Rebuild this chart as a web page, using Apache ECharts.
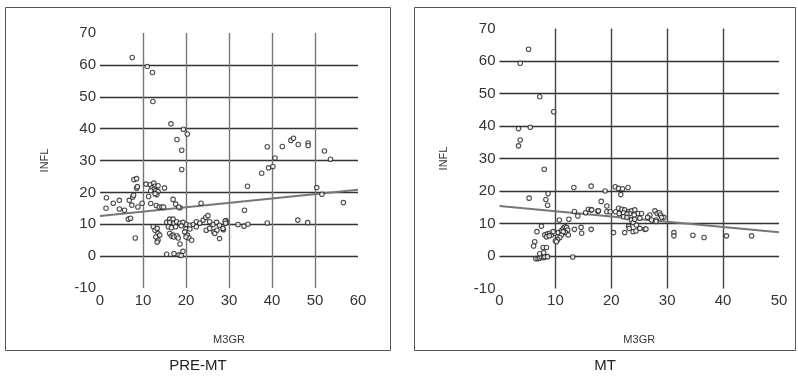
<!DOCTYPE html>
<html>
<head>
<meta charset="utf-8">
<script src="https://cdn.jsdelivr.net/npm/echarts@6/dist/echarts.min.js"></script>
<style>html,body{margin:0;padding:0;background:#fff}#c{width:798px;height:377px}</style>
</head>
<body>
<div id="c"></div>
<script>
const panelTitles = ['PRE-MT', 'MT'];
const xName = 'M3GR';
const yName = 'INFL';

const preX = [7.5,11.0,12.2,12.3,16.5,19.4,20.3,17.9,19.0,19.0,
  38.9,42.4,44.4,45.0,46.1,48.4,48.4,52.2,53.6,40.7,37.6,39.2,40.2,
  34.3,50.4,51.6,56.6,33.6,33.5,34.4,38.9,46.0,48.3,32.1,29.3,29.3,28.7,
  1.5,1.4,3.1,4.5,4.5,5.7,6.8,7.6,7.4,8.8,9.8,6.6,7.1,8.2,7.9,8.5,8.5,8.7,7.8,
  10.7,11.7,12.5,12.7,13.5,12.1,12.6,13.0,13.5,13.2,12.8,11.8,11.3,15.0,
  11.8,13.1,13.8,14.4,14.8,17.0,17.6,18.6,18.3,23.5,
  16.2,17.0,15.5,16.2,17.2,17.8,18.6,19.3,20.1,20.9,21.7,22.4,23.2,24.0,24.6,25.1,25.5,26.3,27.1,27.8,29.1,29.2,
  15.9,16.6,17.6,18.9,20.0,20.9,22.4,24.7,25.5,26.5,27.2,28.6,
  12.4,12.8,13.3,13.5,13.0,13.5,13.3,13.9,16.2,16.6,17.0,17.2,17.9,18.2,19.7,20.3,20.7,21.3,20.0,18.6,26.7,27.8,
  15.5,17.2,18.4,18.9,19.3];
const preY = [62.3,59.5,57.6,48.5,41.5,39.8,38.3,36.6,33.2,27.2,
  34.3,34.4,36.3,37.0,35.0,35.5,34.7,33.0,30.4,30.8,26.0,27.7,28.1,
  21.9,21.5,19.4,16.8,14.4,9.4,10.0,10.4,11.3,10.5,9.9,11.2,10.5,8.3,
  18.3,15.0,16.6,17.5,14.8,14.4,17.5,18.5,16.0,15.4,16.6,11.6,11.9,5.7,24.0,24.3,21.3,21.8,19.1,
  22.6,22.4,22.9,21.9,22.1,21.4,21.0,20.6,20.3,19.3,19.6,20.5,18.7,21.4,
  16.5,15.9,15.4,15.4,15.4,17.8,16.3,15.2,15.4,16.6,
  11.6,11.6,10.6,10.6,10.3,10.8,10.3,10.6,9.9,9.7,9.9,10.8,10.3,11.3,12.1,12.7,10.8,9.9,10.6,9.7,11.0,10.3,
  9.2,8.9,9.2,9.5,8.5,8.5,9.2,8.1,8.7,7.6,8.1,8.7,
  9.2,8.1,8.7,7.1,6.0,5.0,4.4,6.6,7.1,6.3,6.6,6.0,6.3,5.7,7.6,6.6,5.7,5.0,6.0,3.8,7.1,5.5,
  0.6,0.8,0.4,0.2,1.5];

const mtX = [5.2,3.7,7.2,9.7,3.4,5.5,3.7,3.4,8.0,
  13.3,16.4,5.3,8.7,8.3,8.6,18.2,13.4,14.0,15.4,15.9,16.4,17.6,10.7,12.4,7.5,6.7,6.3,6.1,
  8.1,8.6,9.0,9.3,9.9,9.6,10.5,11.1,11.4,11.7,12.0,12.2,11.8,11.1,10.8,10.4,10.0,10.2,11.4,12.3,8.4,8.9,
  13.4,14.6,14.7,16.4,
  6.5,6.9,7.2,7.5,7.9,8.1,8.6,7.2,7.9,7.8,8.4,13.1,
  18.9,20.7,21.3,22.0,23.0,21.7,19.2,19.2,19.8,16.5,17.7,
  20.8,21.3,21.9,22.4,23.1,23.6,24.2,24.8,25.4,21.4,22.2,23.3,24.1,22.8,
  22.2,22.8,23.6,23.9,24.2,25.1,
  23.1,23.2,24.5,25.1,26.0,23.9,20.4,22.4,24.4,26.2,
  26.9,26.5,27.8,28.2,28.6,28.8,29.4,28.0,28.0,29.0,27.2,
  31.2,31.2,34.6,36.6,40.6,45.1];
const mtY = [63.6,59.3,49.0,44.4,39.2,39.6,35.7,33.9,26.7,
  21.1,21.5,17.8,19.2,17.4,15.6,16.8,13.7,12.3,13.3,14.4,14.2,13.8,11.1,11.3,9.2,7.5,4.4,3.1,
  6.5,6.8,7.0,6.5,7.0,7.5,7.2,7.8,8.5,9.0,8.8,8.0,7.2,6.5,5.7,5.1,4.7,4.4,7.5,6.5,5.9,6.2,
  8.2,8.8,7.0,8.2,
  -0.8,-0.8,-0.6,-0.2,-0.5,-0.2,-0.2,0.7,1.0,2.6,2.6,-0.3,
  20.0,21.3,20.8,20.7,21.1,18.9,15.4,13.6,13.6,14.2,13.9,
  13.6,14.7,14.4,14.2,13.6,13.9,14.2,13.1,13.1,13.1,13.3,13.1,12.6,12.9,
  12.1,11.9,11.1,10.3,11.3,11.6,
  9.2,8.5,9.5,8.5,8.2,7.5,7.2,7.2,7.7,8.3,
  12.6,11.9,13.9,13.1,13.3,12.6,11.9,11.1,10.6,11.9,11.1,
  7.2,6.2,6.4,5.7,6.2,6.2];

const preFitX = [0, 60];
const preFitY = [12.6, 20.8];
const mtFitX = [0, 50];
const mtFitY = [15.4, 7.3];

const preXTicks = [0, 60, 10];
const mtXTicks = [0, 50, 10];
const yTicks = [-10, 70, 10];

function zip(a, b) { return a.map((v, i) => [v, b[i]]); }

const FONT = 'Liberation Sans';
function xAxis(idx, t) {
  return {
    type: 'value', gridIndex: idx, min: t[0], max: t[1], interval: t[2],
    name: xName, nameLocation: 'middle', nameGap: 46,
    nameTextStyle: {fontFamily: FONT, fontSize: 11, color: '#333'},
    axisLine: {show: false}, axisTick: {show: false},
    axisLabel: {fontFamily: FONT, fontSize: 15, color: '#333', margin: 5},
    splitLine: {show: true, showMinLine: false, showMaxLine: false, lineStyle: {color: idx === 0 ? '#777' : '#444', width: 1.4}}
  };
}
function yAxis(idx) {
  return {
    type: 'value', gridIndex: idx, min: yTicks[0], max: yTicks[1], interval: yTicks[2],
    name: yName, nameLocation: 'middle', nameGap: 50, nameRotate: 90,
    nameTextStyle: {fontFamily: FONT, fontSize: 11, color: '#333'},
    axisLine: {show: false}, axisTick: {show: false},
    axisLabel: {fontFamily: FONT, fontSize: 15, color: '#333', margin: 4},
    splitLine: {show: true, showMinLine: false, showMaxLine: false, lineStyle: {color: '#333', width: 1.4}}
  };
}
const scatterStyle = {color: '#fff', borderColor: '#222', borderWidth: 1.1};

const chart = echarts.init(document.getElementById('c'), null, {renderer: 'canvas'});
chart.setOption({
  animation: false,
  backgroundColor: '#fff',
  grid: [
    {left: 100, top: 33, width: 258, height: 255},
    {left: 499.5, top: 28.5, width: 279.5, height: 260}
  ],
  xAxis: [xAxis(0, preXTicks), xAxis(1, mtXTicks)],
  yAxis: [yAxis(0), yAxis(1)],
  graphic: [
    {type: 'rect', shape: {x: 5.5, y: 7.5, width: 385, height: 343}, style: {fill: 'none', stroke: '#555', lineWidth: 1}},
    {type: 'rect', shape: {x: 414.5, y: 7.5, width: 381, height: 343}, style: {fill: 'none', stroke: '#555', lineWidth: 1}},
    {type: 'text', x: 198, y: 366, style: {text: panelTitles[0], fontFamily: FONT, fontSize: 15, fill: '#222', textAlign: 'center', textVerticalAlign: 'middle'}},
    {type: 'text', x: 605, y: 366, style: {text: panelTitles[1], fontFamily: FONT, fontSize: 15, fill: '#222', textAlign: 'center', textVerticalAlign: 'middle'}}
  ],
  series: [
    {type: 'line', xAxisIndex: 0, yAxisIndex: 0, data: zip(preFitX, preFitY), showSymbol: false, lineStyle: {color: '#777', width: 2}, z: 3},
    {type: 'line', xAxisIndex: 1, yAxisIndex: 1, data: zip(mtFitX, mtFitY), showSymbol: false, lineStyle: {color: '#777', width: 2}, z: 3},
    {type: 'scatter', xAxisIndex: 0, yAxisIndex: 0, data: zip(preX, preY), symbol: 'circle', symbolSize: 4.5, itemStyle: scatterStyle, z: 4},
    {type: 'scatter', xAxisIndex: 1, yAxisIndex: 1, data: zip(mtX, mtY), symbol: 'circle', symbolSize: 4.5, itemStyle: scatterStyle, z: 4}
  ]
});
</script>
</body>
</html>
